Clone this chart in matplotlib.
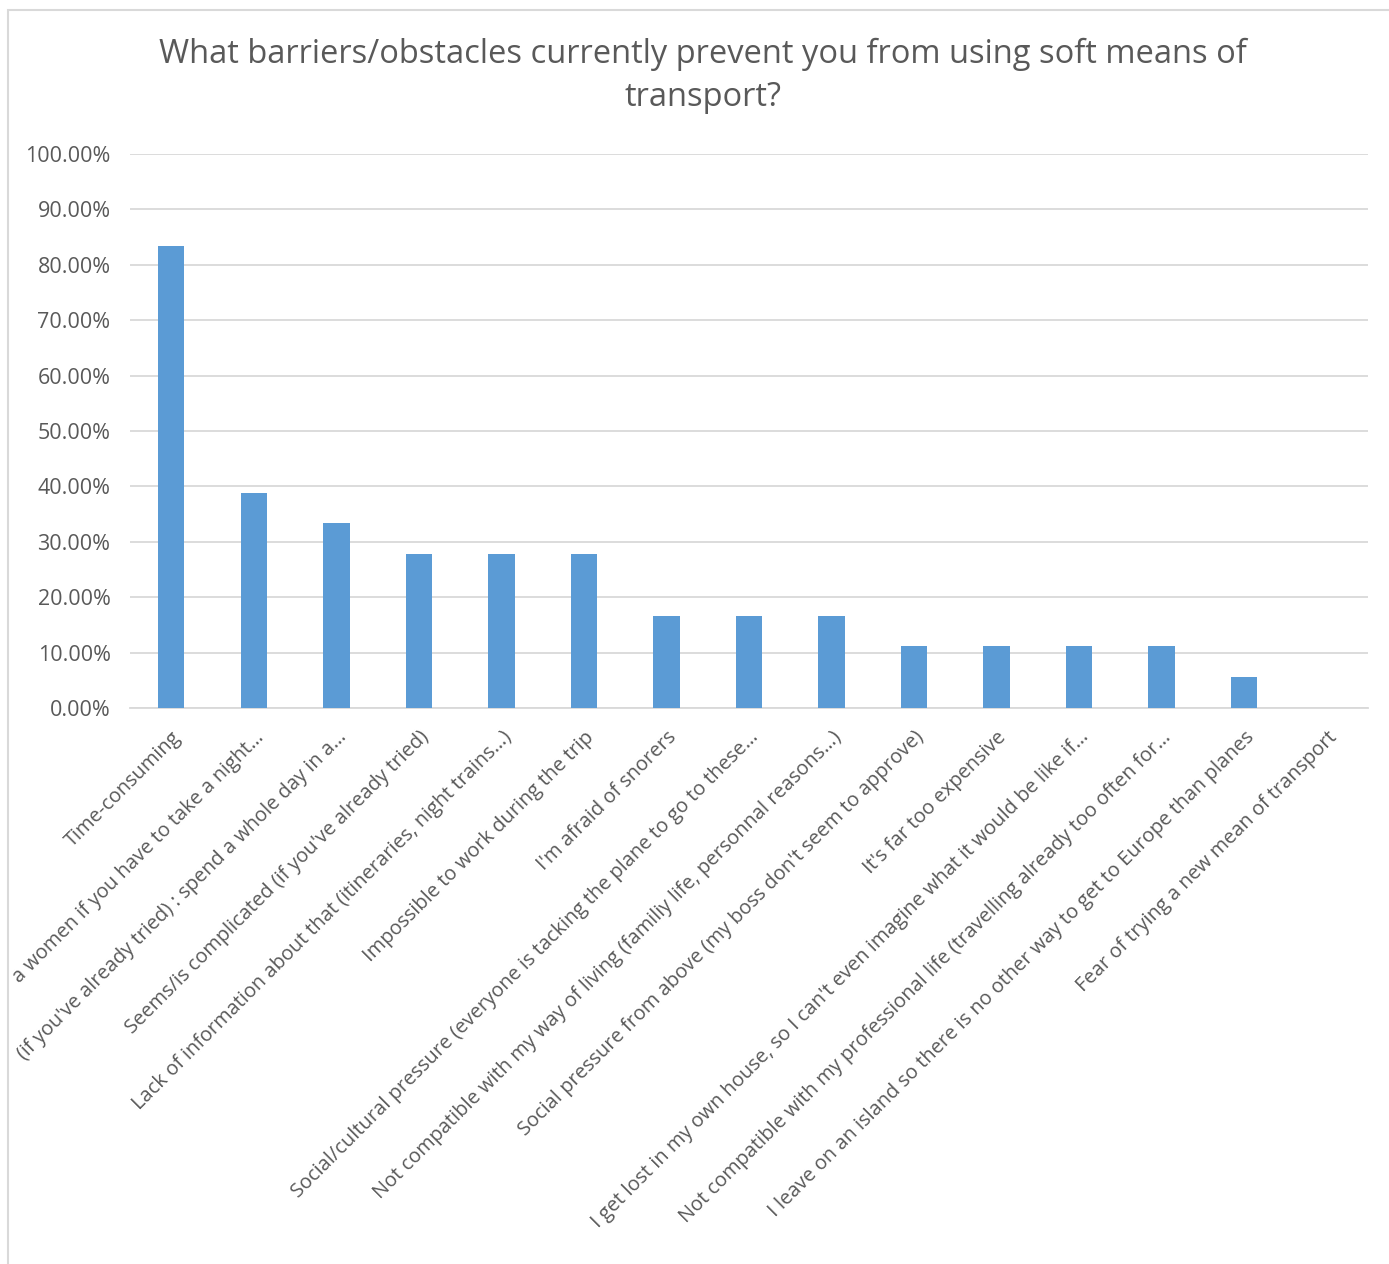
import matplotlib
import matplotlib.pyplot as plt
from matplotlib.patches import Rectangle
from matplotlib.ticker import PercentFormatter
import matplotlib.transforms as mtransforms

matplotlib.use('agg')

barriers = [
    "Time-consuming",
    "a women if you have to take a night\u2026",
    "(if you've already tried) : spend a whole day in a\u2026",
    "Seems/is complicated (if you've already tried)",
    "Lack of information about that (itineraries, night trains\u2026)",
    "Impossible to work during the trip",
    "I'm afraid of snorers",
    "Social/cultural pressure (everyone is tacking the plane to go to these\u2026",
    "Not compatible with my way of living (familiy life, personnal reasons\u2026)",
    "Social pressure from above (my boss don't seem to approve)",
    "It's far too expensive",
    "I get lost in my own house, so I can't even imagine what it would be like if\u2026",
    "Not compatible with my professional life (travelling already too often for\u2026",
    "I leave on an island so there is no other way to get to Europe than planes",
    "Fear of trying a new mean of transport",
]
shares = [0.8333, 0.3889, 0.3333, 0.2778, 0.2778, 0.2778, 0.1667, 0.1667,
          0.1667, 0.1111, 0.1111, 0.1111, 0.1111, 0.0556, 0.0]
y_ticks = [i / 10 for i in range(11)]

text_col = '#595959'
bar_col = '#5b9bd5'
grid_col = '#d9d9d9'

plt.rcParams['font.family'] = ['Open Sans', 'DejaVu Sans']

my_dpi = 100
W, H = 1389, 1264
fig = plt.figure(figsize=(W / my_dpi, H / my_dpi), dpi=my_dpi)

# chart frame
fig.patches.append(Rectangle((8 / W, -0.05), 1.1, 1 - 10 / H + 0.05,
                             transform=fig.transFigure, fill=False,
                             edgecolor='#d9d9d9', linewidth=1.5))

ax = fig.add_axes([130 / W, 1 - 708 / H, (1368 - 130) / W, (708 - 154) / H])

x = range(len(barriers))
ax.bar(x, shares, width=0.32, color=bar_col, zorder=3)

ax.set_xlim(-0.5, len(barriers) - 0.5)
ax.set_ylim(0, 1)
ax.set_yticks(y_ticks)
ax.yaxis.set_major_formatter(PercentFormatter(1.0, decimals=2))
ax.grid(axis='y', color=grid_col, linewidth=1.3, zorder=0)

for side in ['top', 'right', 'left']:
    ax.spines[side].set_visible(False)
ax.spines['bottom'].set_color(grid_col)
ax.spines['bottom'].set_linewidth(1.3)

ax.tick_params(axis='y', length=0, pad=14, labelsize=15.5, labelcolor=text_col)
ax.tick_params(axis='x', length=0, pad=6, labelsize=14.4, labelcolor=text_col)

ax.set_xticks(list(x))
ax.set_xticklabels(barriers, rotation=45, ha='right', va='center', rotation_mode='anchor')
shift = mtransforms.ScaledTranslation(7 / my_dpi, -18 / my_dpi, fig.dpi_scale_trans)
for lbl in ax.get_xticklabels():
    lbl.set_transform(lbl.get_transform() + shift)

fig.text(0.506, 1 - 76 / H,
         'What barriers/obstacles currently prevent you from using soft means of\ntransport?',
         ha='center', va='center', fontsize=23.5, color=text_col, linespacing=1.42)

fig.savefig('out.png', dpi=my_dpi)
